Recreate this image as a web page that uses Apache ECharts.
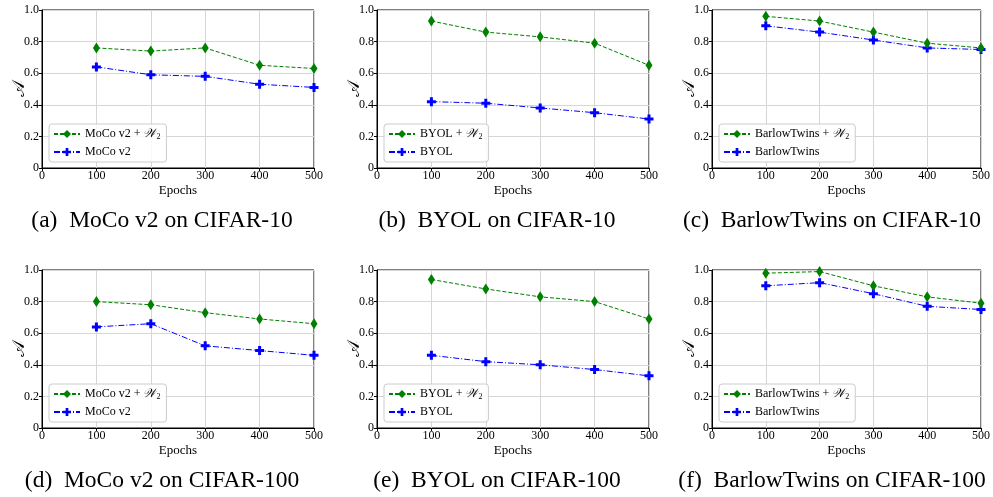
<!DOCTYPE html>
<html>
<head>
<meta charset="utf-8">
<script src="https://cdn.jsdelivr.net/npm/echarts@6/dist/echarts.min.js"></script>
<style>
  html, body { margin: 0; padding: 0; background: #fff; }
  #chart { width: 993px; height: 497px; }
</style>
</head>
<body>
<div id="chart"></div>
<script>
// epochs on x axis
var epochs = [100, 200, 300, 400, 500];
var yTicks = ['0', '0.2', '0.4', '0.6', '0.8', '1.0'];

// panel captions
var captions = [
  '(a)  MoCo v2 on CIFAR-10',
  '(b)  BYOL on CIFAR-10',
  '(c)  BarlowTwins on CIFAR-10',
  '(d)  MoCo v2 on CIFAR-100',
  '(e)  BYOL on CIFAR-100',
  '(f)  BarlowTwins on CIFAR-100'
];
var methods = ['MoCo v2', 'BYOL', 'BarlowTwins', 'MoCo v2', 'BYOL', 'BarlowTwins'];

// values (with W2 / baseline)
var mocoC10W2 = [0.76, 0.74, 0.76, 0.65, 0.63];
var mocoC10 = [0.64, 0.59, 0.58, 0.53, 0.51];
var byolC10W2 = [0.93, 0.86, 0.83, 0.79, 0.65];
var byolC10 = [0.42, 0.41, 0.38, 0.35, 0.31];
var barlowC10W2 = [0.96, 0.93, 0.86, 0.79, 0.76];
var barlowC10 = [0.90, 0.86, 0.81, 0.76, 0.75];
var mocoC100W2 = [0.80, 0.78, 0.73, 0.69, 0.66];
var mocoC100 = [0.64, 0.66, 0.52, 0.49, 0.46];
var byolC100W2 = [0.94, 0.88, 0.83, 0.80, 0.69];
var byolC100 = [0.46, 0.42, 0.40, 0.37, 0.33];
var barlowC100W2 = [0.98, 0.99, 0.90, 0.83, 0.79];
var barlowC100 = [0.90, 0.92, 0.85, 0.77, 0.75];

var w2Values = [mocoC10W2, byolC10W2, barlowC10W2, mocoC100W2, byolC100W2, barlowC100W2];
var baseValues = [mocoC10, byolC10, barlowC10, mocoC100, byolC100, barlowC100];

var font = '"Liberation Serif", "Times New Roman", serif';
var GREEN = '#008000', BLUE = '#0000ff';
var diamond = 'path://M0,0L3,5L0,10L-3,5Z';
var plusP = 'path://M-1,-3H1V-1H3V1H1V3H-1V1H-3V-1H-1Z';

var lefts = [42, 377, 712];
var tops = [10, 270];
var W = 272, H = 158;
var capCenters = [162, 497, 832];

var grid = [], xAxis = [], yAxis = [], series = [], legend = [], graphic = [];

function pair(vals) {
  return vals.map(function (v, i) { return [epochs[i], v]; });
}

for (var i = 0; i < 6; i++) {
  var gl = lefts[i % 3], gt = tops[Math.floor(i / 3)];
  grid.push({
    left: gl, top: gt, width: W, height: H,
    show: true, borderColor: '#000', borderWidth: 1, backgroundColor: '#fff'
  });
  xAxis.push({
    type: 'value', gridIndex: i, min: 0, max: 500, interval: 100,
    name: 'Epochs', nameLocation: 'middle', nameGap: 16, nameMoveOverlap: false,
    nameTextStyle: { fontFamily: font, fontSize: 13, color: '#000' },
    axisLine: { lineStyle: { color: '#000' } },
    axisTick: { show: true, length: 3, lineStyle: { color: '#000' } },
    axisLabel: { fontFamily: font, fontSize: 12, color: '#000', margin: 2 },
    splitLine: { show: true, lineStyle: { color: '#d6d6d6' } }
  });
  yAxis.push({
    type: 'value', gridIndex: i, min: 0, max: 1, interval: 0.2,
    name: '𝒜', nameLocation: 'middle', nameGap: 14, nameRotate: 90, nameMoveOverlap: false,
    nameTextStyle: { fontFamily: font, fontSize: 17, color: '#000' },
    axisLine: { show: true, lineStyle: { color: '#000' } },
    axisTick: { show: true, length: 3, lineStyle: { color: '#000' } },
    axisLabel: {
      fontFamily: font, fontSize: 12, color: '#000', margin: 3,
      formatter: function (v) { return yTicks[Math.round(v * 5)]; }
    },
    splitLine: { show: true, lineStyle: { color: '#d6d6d6' } }
  });
  var nW2 = methods[i] + ' + 𝒲2';
  var nBase = methods[i];
  series.push({
    name: nW2, type: 'line', xAxisIndex: i, yAxisIndex: i,
    data: pair(w2Values[i]),
    symbol: diamond, symbolSize: [7, 11],
    itemStyle: { color: GREEN },
    lineStyle: { color: GREEN, width: 1, type: [4, 2] },
    emphasis: { disabled: true }, z: 3
  });
  series.push({
    name: nBase, type: 'line', xAxisIndex: i, yAxisIndex: i,
    data: pair(baseValues[i]),
    symbol: plusP, symbolSize: 9,
    itemStyle: { color: BLUE },
    lineStyle: { color: BLUE, width: 1, type: [6, 2, 1, 2] },
    emphasis: { disabled: true }, z: 2
  });
  legend.push({
    data: [nW2, nBase], orient: 'vertical',
    left: gl + 7, top: gt + 114,
    itemWidth: 26, itemHeight: 10, itemGap: 5,
    padding: [4, 6, 4, 4],
    backgroundColor: 'rgba(255,255,255,0.85)',
    borderColor: '#cccccc', borderWidth: 1, borderRadius: 3,
    formatter: function (name) {
      if (name.indexOf('𝒲2') >= 0) {
        return '{n|' + name.replace('𝒲2', '') + '}{w|𝒲}{s|2}';
      }
      return '{n|' + name + '}';
    },
    textStyle: {
      fontFamily: font, fontSize: 12, color: '#000',
      rich: {
        n: { fontFamily: font, fontSize: 12, color: '#000' },
        w: { fontSize: 12, color: '#000', fontStyle: 'italic' },
        s: { fontFamily: font, fontSize: 8, color: '#000', verticalAlign: 'bottom', padding: [6, 0, 0, 0] }
      }
    },
    selectedMode: false
  });
  // subfigure caption
  graphic.push({
    type: 'text', x: capCenters[i % 3], y: gt + 211,
    style: {
      text: captions[i], fill: '#000',
      font: '23.5px ' + font,
      textAlign: 'center', textVerticalAlign: 'middle'
    }
  });
}

var myChart = echarts.init(document.getElementById('chart'));
myChart.setOption({
  animation: false,
  legend: legend,
  grid: grid,
  xAxis: xAxis,
  yAxis: yAxis,
  series: series,
  graphic: graphic
});
</script>
</body>
</html>
